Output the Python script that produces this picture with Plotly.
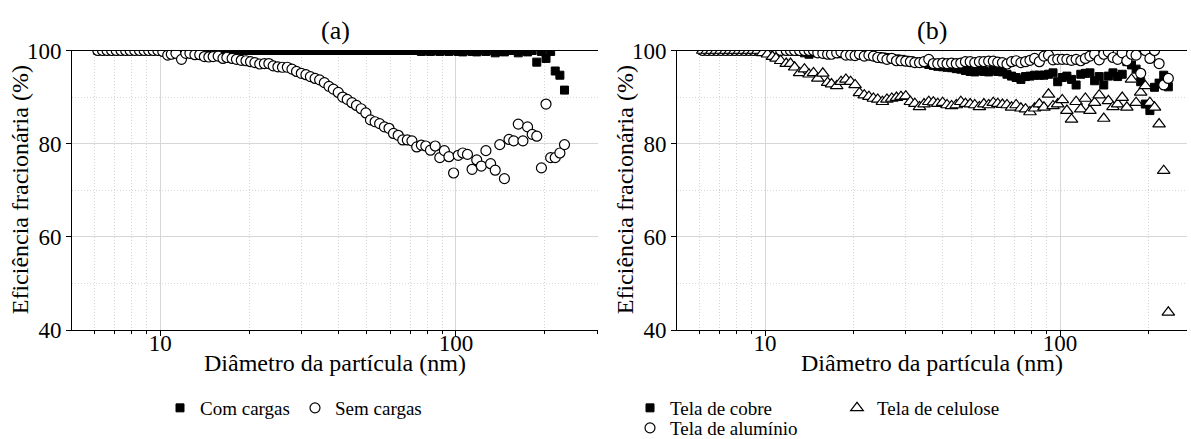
import plotly.graph_objects as go

# Particle diameter channel midpoints (nm), 64 channels per decade
diametro = [
    6.15, 6.38, 6.61, 6.85, 7.10, 7.37, 7.64, 7.91, 8.20, 8.51, 8.82, 9.14, 9.47, 9.82,
    10.2, 10.6, 10.9, 11.3, 11.8, 12.2, 12.6, 13.1, 13.6, 14.1,
    14.6, 15.1, 15.7, 16.3, 16.8, 17.5, 18.1, 18.8, 19.5, 20.2,
    20.9, 21.7, 22.5, 23.3, 24.1, 25.0, 25.9, 26.9, 27.9, 28.9,
    30.0, 31.1, 32.2, 33.4, 34.6, 35.9, 37.2, 38.5, 40.0, 41.4,
    42.9, 44.5, 46.1, 47.8, 49.6, 51.4, 53.3, 55.2, 57.3, 59.4,
    61.5, 63.8, 66.1, 68.5, 71.0, 73.7, 76.4, 79.1, 82.0, 85.1,
    88.2, 91.4, 94.7, 98.2, 101.8, 105.5, 109.4, 113.4, 117.6, 121.9,
    126.3, 131.0, 135.8, 140.7, 145.9, 151.2, 156.8, 162.5, 168.5, 174.7,
    181.1, 187.7, 194.6, 201.7, 209.1, 216.7, 224.7, 232.9,
]

# (a) fractional efficiency (%)
com_cargas = [
    100, 100, 100, 100, 100, 100, 100, 100, 100, 100, 100, 100, 100, 100,
    100, 100, 100, 100, 100, 100, 100, 100, 100, 100,
    100, 100, 100, 100, 100, 100, 100, 100, 100, 100,
    100, 100, 100, 100, 100, 100, 100, 100, 100, 100,
    100, 100, 100, 100, 100, 100, 100, 100, 100, 100,
    100, 100, 100, 100, 100, 100, 100, 100, 100, 100,
    100, 100, 100, 100, 100, 100, 99.8, 100, 99.8, 100,
    99.8, 100, 99.8, 100, 99.8, 99.7, 100, 99.8, 99.7, 100,
    99.8, 100, 99.5, 99.8, 99.7, 100, 100, 99.5, 100, 99.7,
    100, 97.5, 99.8, 98.3, 99.8, 95.6, 94.7, 91.5,
]
sem_cargas = [
    100, 100, 100, 100, 100, 100, 100, 100, 100, 100, 100, 100, 100, 100,
    99.8, 99.0, 99.2, 99.4, 98.1, 99.4, 99.4, 99.1, 99.1, 98.7,
    98.6, 98.7, 98.8, 98.3, 98.5, 98.3, 98.1, 97.9, 97.8, 97.6,
    97.4, 97.1, 97.2, 97.2, 96.7, 96.5, 96.4, 96.4, 96.0, 95.5,
    95.1, 94.8, 94.4, 94.0, 93.7, 93.1, 92.3, 91.7, 91.0, 90.0,
    89.5, 88.8, 88.2, 87.5, 86.6, 85.1, 84.7, 84.3, 83.6, 83.3,
    82.2, 81.8, 80.8, 80.8, 80.6, 79.3, 79.7, 79.5, 78.6, 79.5,
    77.0, 78.5, 77.2, 73.7, 77.5, 78.0, 77.7, 74.5, 76.5, 75.2,
    78.5, 75.7, 74.3, 79.8, 72.5, 80.9, 80.6, 84.2, 80.6, 83.6,
    82.0, 81.6, 74.8, 88.5, 77.0, 77.0, 78.0, 79.8,
]

# (b) fractional efficiency (%)
tela_cobre = [
    100, 100, 100, 100, 100, 100, 100, 100, 100, 100, 100, 100, 100, 100,
    100, 100, 100, 100, 100, 100, 100, 99.8, 99.5, 99.2,
    99.6, 99.5, 99.6, 99.4, 99.5, 99.4, 99.3, 99.3, 99.2, 99.1,
    99.0, 99.0, 98.9, 98.8, 98.7, 98.6, 98.5, 98.3, 98.2, 98.1,
    97.9, 97.8, 97.6, 97.4, 97.3, 97.0, 96.8, 96.6, 96.5, 96.4,
    96.3, 96.1, 96.0, 95.7, 95.5, 95.4, 95.7, 95.5, 95.4, 95.8,
    95.5, 95.4, 94.9, 94.5, 94.2, 93.8, 94.4, 94.5, 94.7, 94.7,
    94.7, 94.9, 95.2, 93.3, 94.2, 94.5, 93.8, 92.6, 94.9, 95.1,
    95.2, 93.5, 94.4, 92.6, 94.5, 95.2, 94.4, 94.9, 97.6, 96.9,
    96.0, 93.3, 88.5, 87.1, 92.1, 93.0, 94.7, 92.2,
]
tela_aluminio = [
    100, 100, 100, 100, 100, 100, 100, 100, 100, 100, 100, 100, 100, 100,
    100, 100, 100, 100, 100, 100, 100, 100, 100, 100,
    100, 99.5, 99.4, 99.2, 99.2, 99.5, 99.7, 99.0, 99.0, 98.9,
    99.2, 98.8, 99.0, 98.8, 98.5, 98.4, 98.1, 98.3, 97.8, 97.8,
    97.7, 97.6, 97.4, 97.4, 97.6, 98.1, 97.2, 97.2, 97.3, 97.2,
    97.3, 97.2, 97.3, 97.6, 97.6, 97.4, 97.6, 97.6, 97.7, 97.7,
    97.5, 97.4, 97.1, 97.6, 97.8, 97.4, 97.6, 97.9, 98.3, 97.6,
    98.8, 99.0, 98.0, 98.1, 98.1, 98.1, 97.9, 98.1, 97.8, 98.3,
    98.8, 99.2, 98.0, 99.2, 99.7, 98.5, 98.1, 99.5, 97.8, 99.2,
    99.0, 95.1, 100, 98.3, 100, 97.2, 92.6, 94.0,
]
tela_celulose = [
    100, 100, 100, 100, 100, 100, 100, 100, 100, 100, 100, 100, 100, 99.5,
    99.2, 98.7, 98.3, 97.8, 97.2, 97.2, 96.4, 95.2, 96.0, 94.9,
    95.2, 94.0, 95.1, 93.1, 92.8, 92.4, 93.3, 93.8, 93.3, 92.6,
    90.9, 90.4, 90.1, 89.7, 89.5, 89.0, 89.5, 89.7, 89.9, 90.1,
    90.2, 89.0, 88.6, 87.9, 88.5, 89.0, 88.9, 88.6, 88.8, 88.3,
    88.1, 88.3, 89.0, 88.6, 88.5, 88.3, 87.9, 88.5, 88.3, 88.8,
    88.6, 88.4, 88.3, 87.8, 88.3, 87.6, 87.4, 86.8, 87.6, 88.5,
    87.8, 90.6, 88.1, 88.5, 89.4, 87.1, 85.2, 89.0, 87.4, 89.7,
    87.1, 88.8, 90.4, 85.4, 89.2, 87.9, 88.5, 89.9, 87.8, 93.8,
    88.8, 91.0, 92.4, 88.8, 87.8, 84.2, 74.2, 43.8,
]

x_ticks = [10, 100]
x_minor = [6, 7, 8, 9, 20, 30, 40, 50, 60, 70, 80, 90, 200, 300]
y_ticks = [40, 60, 80, 100]
panel_titles = ["(a)", "(b)"]
x_title = "Diâmetro da partícula (nm)"
y_title = "Eficiência fracionária (%)"

FONT = "Liberation Serif, Times New Roman, serif"
W, H = 1191, 439
TOP, BOTTOM = 50.5, 330          # plot area edges, px from top
PANELS = [(72, 598, 2.4805), (677, 1187, 2.4305)]  # left px, right px, log10 of x max

fig = go.Figure()

square = dict(symbol="square", size=8, color="black", line=dict(color="black", width=1))
circle = dict(symbol="circle", size=10, color="white", line=dict(color="black", width=1.2))
triangle = dict(symbol="triangle-up", size=11, color="white", line=dict(color="black", width=1.2))

fig.add_trace(go.Scatter(x=diametro, y=com_cargas, mode="markers", marker=square,
                         name="Com cargas", xaxis="x", yaxis="y", legend="legend"))
fig.add_trace(go.Scatter(x=diametro, y=sem_cargas, mode="markers", marker=circle,
                         name="Sem cargas", xaxis="x", yaxis="y", legend="legend"))

fig.add_trace(go.Scatter(x=diametro, y=tela_cobre, mode="markers", marker=square,
                         name="Tela de cobre", xaxis="x2", yaxis="y2", legend="legend2",
                         legendrank=1))
fig.add_trace(go.Scatter(x=diametro, y=tela_aluminio, mode="markers", marker=circle,
                         name="Tela de alumínio", xaxis="x2", yaxis="y2", legend="legend3"))
fig.add_trace(go.Scatter(x=diametro, y=tela_celulose, mode="markers", marker=triangle,
                         name="Tela de celulose", xaxis="x2", yaxis="y2", legend="legend2",
                         legendrank=2))

y_dom = [(H - BOTTOM) / H, (H - TOP) / H]
grid_color = "#d6d6d6"
tick_font = dict(size=23, family=FONT, color="black")


def xaxis_style(left, right, x_max, anchor):
    return dict(
        type="log", domain=[left / W, right / W], range=[0.7016, x_max], anchor=anchor,
        tickvals=x_ticks, ticktext=[str(v) for v in x_ticks],
        ticks="outside", ticklen=5, tickcolor="black", ticklabelstandoff=-13,
        showline=True, linecolor="black", linewidth=1, mirror=True,
        showgrid=True, gridcolor=grid_color, gridwidth=1,
        minor=dict(tickvals=x_minor, ticks="outside", ticklen=3, tickcolor="black",
                   showgrid=True, gridcolor=grid_color, griddash="1px,2px", gridwidth=1),
        tickfont=tick_font, zeroline=False,
    )


def yaxis_style(anchor):
    return dict(
        domain=y_dom, range=[40, 100], anchor=anchor,
        tickvals=y_ticks, ticks="outside", ticklen=5, tickcolor="black",
        showline=True, linecolor="black", linewidth=1,
        showgrid=True, gridcolor=grid_color, gridwidth=1,
        minor=dict(dtick=10, tick0=40, showgrid=True, gridcolor=grid_color,
                   griddash="1px,2px"),
        tickfont=tick_font, zeroline=False,
    )


legend_font = dict(size=19, family=FONT, color="black")

fig.update_layout(
    width=W, height=H,
    margin=dict(l=0, r=0, t=0, b=0, autoexpand=False),
    paper_bgcolor="white", plot_bgcolor="white",
    font=dict(family=FONT, color="black"),
    xaxis=xaxis_style(*PANELS[0], "y"),
    yaxis=yaxis_style("x"),
    xaxis2=xaxis_style(*PANELS[1], "y2"),
    yaxis2=yaxis_style("x2"),
    legend=dict(orientation="h", x=160 / W, xanchor="left", y=(H - 408) / H, yanchor="middle",
                font=legend_font, entrywidth=90, bgcolor="rgba(0,0,0,0)"),
    legend2=dict(orientation="h", x=630 / W, xanchor="left", y=(H - 408) / H, yanchor="middle",
                 font=legend_font, entrywidth=162, bgcolor="rgba(0,0,0,0)"),
    legend3=dict(orientation="h", x=630 / W, xanchor="left", y=(H - 428) / H, yanchor="middle",
                 font=legend_font, bgcolor="rgba(0,0,0,0)"),
    showlegend=True,
)

title_font = dict(size=24, family=FONT, color="black")
for title, (left, right, _) in zip(panel_titles, PANELS):
    cx = (left + right) / 2
    fig.add_annotation(text=title, x=cx / W, y=(H - 30) / H, xref="paper", yref="paper",
                       showarrow=False, xanchor="center", yanchor="middle",
                       font=dict(size=26, family=FONT, color="black"))
    fig.add_annotation(text=x_title, x=cx / W, y=(H - 363) / H, xref="paper", yref="paper",
                       showarrow=False, xanchor="center", yanchor="middle", font=title_font)
    fig.add_annotation(text=y_title, x=(left - 52) / W, y=(H - (TOP + BOTTOM) / 2) / H,
                       xref="paper", yref="paper", textangle=-90,
                       showarrow=False, xanchor="center", yanchor="middle", font=title_font)

fig.write_html("out.html")
